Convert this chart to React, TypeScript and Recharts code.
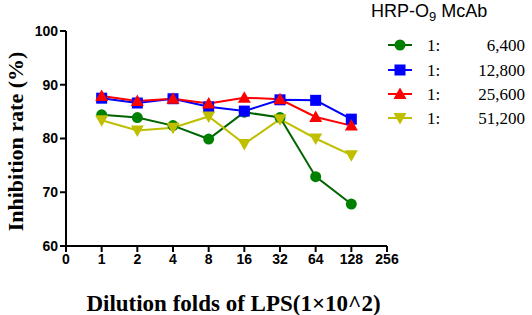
import React from "react";
import { LineChart, Line, XAxis, YAxis } from "recharts";

const xLabels = ["0", "1", "2", "4", "8", "16", "32", "64", "128", "256"];
const xIndex = [1, 2, 3, 4, 5, 6, 7, 8];
const s6400 = [84.4, 83.9, 82.4, 79.9, 84.9, 83.9, 72.9, 67.8];
const s12800 = [87.5, 86.6, 87.4, 85.9, 85.1, 87.2, 87.1, 83.6];
const s25600 = [87.9, 87.0, 87.4, 86.5, 87.6, 87.3, 84.0, 82.4];
const s51200 = [83.4, 81.5, 82.0, 84.1, 79.0, 83.6, 80.0, 76.9];
const yTicks = [60, 70, 80, 90, 100];

const seriesNames = ["6,400", "12,800", "25,600", "51,200"];
const seriesKeys = ["a", "b", "c", "d"];
const colors = ["#008000", "#0000FF", "#FF0000", "#BFBF00"];
const lineColors = ["#006400", "#0000FF", "#FF0000", "#BFBF00"];
const shapes = ["circle", "square", "triangle", "down"];

const data = xIndex.map((x, i) => ({
  x,
  a: s6400[i],
  b: s12800[i],
  c: s25600[i],
  d: s51200[i],
}));

function Marker({ cx, cy, shape, color }: any) {
  if (cx == null || cy == null) return null;
  if (shape === "circle") return <circle cx={cx} cy={cy} r={5.5} fill={color} />;
  if (shape === "square") return <rect x={cx - 5.5} y={cy - 5.5} width={11} height={11} fill={color} />;
  if (shape === "triangle")
    return <polygon points={`${cx},${cy - 6.5} ${cx + 6.5},${cy + 5} ${cx - 6.5},${cy + 5}`} fill={color} />;
  return <polygon points={`${cx},${cy + 6.5} ${cx + 6.5},${cy - 5} ${cx - 6.5},${cy - 5}`} fill={color} />;
}

function LegendBox() {
  const ys = [45, 70, 94, 118];
  return (
    <svg width={170} height={140} style={{ position: "absolute", left: 370, top: 0 }}>
      <text x={1} y={17} fontFamily="Liberation Sans, Arial, sans-serif" fontSize={18} fill="#000">
        HRP-O<tspan fontSize={13} dy={4}>9</tspan>
        <tspan dy={-4}> McAb</tspan>
      </text>
      {ys.map((y, i) => (
        <g key={i}>
          <line x1={18} x2={42} y1={y} y2={y} stroke={lineColors[i]} strokeWidth={2} />
          <Marker cx={30} cy={y} shape={shapes[i]} color={colors[i]} />
          <text x={57} y={y + 6} fontFamily="Liberation Serif, serif" fontSize={17} fill="#000">
            1:
          </text>
          <text x={155} y={y + 6} textAnchor="end" fontFamily="Liberation Serif, serif" fontSize={17} fill="#000">
            {seriesNames[i]}
          </text>
        </g>
      ))}
    </svg>
  );
}

export default function App() {
  return (
    <div style={{ position: "absolute", left: 0, top: 0, width: 532, height: 315, background: "#fff" }}>
      <LineChart width={532} height={315} data={data} margin={{ top: 31, right: 145, bottom: 39, left: 36 }}>
        <XAxis
          dataKey="x"
          type="number"
          domain={[0, 9]}
          ticks={[0, 1, 2, 3, 4, 5, 6, 7, 8, 9]}
          tickFormatter={(v: number) => xLabels[v]}
          height={30}
          axisLine={{ stroke: "#000", strokeWidth: 2 }}
          tickLine={{ stroke: "#000", strokeWidth: 2 }}
          tickSize={6}
          tick={{ fill: "#000", fontSize: 14, fontWeight: "bold", fontFamily: "Liberation Sans, Arial, sans-serif" }}
          label={{
            value: "Dilution folds of LPS(1×10^2)",
            position: "center",
            dx: 7,
            dy: 42,
            style: { fill: "#000", fontSize: 23, fontWeight: "bold", fontFamily: "Liberation Serif, serif" },
          }}
        />
        <YAxis
          type="number"
          domain={[60, 100]}
          ticks={yTicks}
          width={30}
          axisLine={{ stroke: "#000", strokeWidth: 2 }}
          tickLine={{ stroke: "#000", strokeWidth: 2 }}
          tickSize={6}
          tick={{ fill: "#000", fontSize: 14, fontWeight: "bold", fontFamily: "Liberation Sans, Arial, sans-serif" }}
          label={{
            value: "Inhibition rate (%)",
            angle: -90,
            position: "center",
            dx: -36,
            dy: 3,
            style: { fill: "#000", fontSize: 22, fontWeight: "bold", fontFamily: "Liberation Serif, serif" },
          }}
        />
        {seriesKeys.map((k, i) => (
          <Line
            key={k}
            dataKey={k}
            stroke={lineColors[i]}
            strokeWidth={2}
            isAnimationActive={false}
            dot={(p: any) => <Marker key={`${k}-${p.index}`} cx={p.cx} cy={p.cy} shape={shapes[i]} color={colors[i]} />}
            activeDot={false}
          />
        ))}
      </LineChart>
      <LegendBox />
    </div>
  );
}
